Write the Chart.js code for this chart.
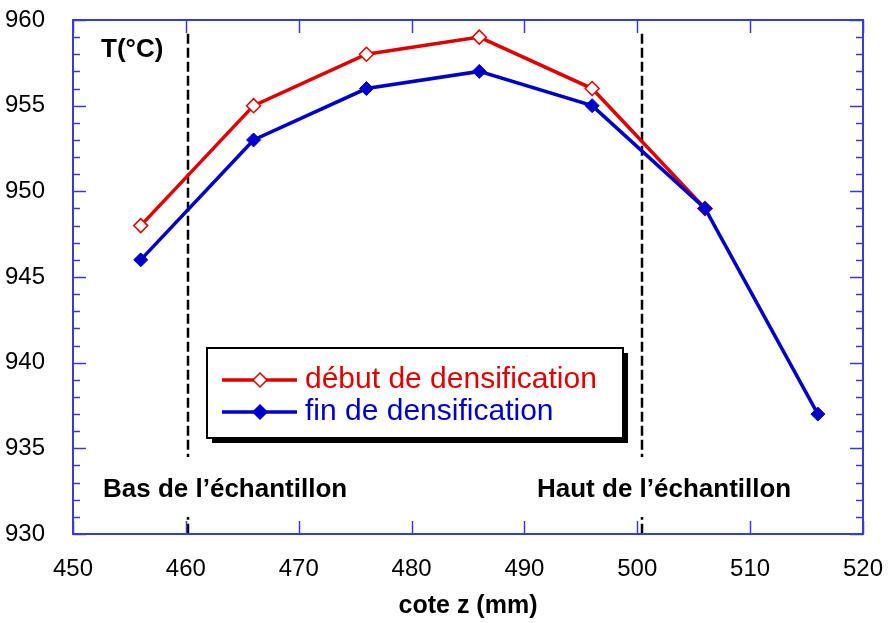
<!DOCTYPE html>
<html>
<head>
<meta charset="utf-8">
<script src="https://cdn.jsdelivr.net/npm/chart.js@4/dist/chart.umd.min.js"></script>
<style>
  html, body { margin: 0; padding: 0; background: #fff; }
  #wrap { width: 890px; height: 623px; }
</style>
</head>
<body>
<div id="wrap"><canvas id="tempChart" width="890" height="623"></canvas></div>
<script>
// cote z (mm)
const zDebut = [456, 466, 476, 486, 496, 506];
const tDebut = [948, 955, 958, 959, 956, 949];
const zFin = [456, 466, 476, 486, 496, 506, 516];
const tFin = [946, 953, 956, 957, 955, 949, 937];

// limites de l'échantillon (lignes pointillées)
const zLimits = [460.2, 500.4];
const limitTop = 959.2;

const xTicks = [450, 460, 470, 480, 490, 500, 510, 520];
const yTicks = [930, 935, 940, 945, 950, 955, 960];

const RED = '#e00000';
const BLUE = '#0000cc';
const AXIS = '#3a3ad8';
const FONT = '"Liberation Sans", Arial, sans-serif';

const toPoints = (xs, ys) => xs.map((x, i) => ({ x, y: ys[i] }));

const overlayPlugin = {
  id: 'overlay',
  beforeDatasetsDraw(chart) {
    const { ctx, scales: { x, y } } = chart;
    ctx.save();
    // dashed vertical limits
    ctx.strokeStyle = '#000';
    ctx.lineWidth = 2.5;
    ctx.setLineDash([10, 4]);
    zLimits.forEach(z => {
      const px = Math.round(x.getPixelForValue(z));
      ctx.beginPath();
      ctx.moveTo(px, y.getPixelForValue(limitTop));
      ctx.lineTo(px, y.getPixelForValue(930));
      ctx.stroke();
    });
    ctx.setLineDash([]);

    // annotation texts with white background
    ctx.font = 'bold 26px ' + FONT;
    ctx.textBaseline = 'alphabetic';
    ctx.textAlign = 'left';
    const notes = [
      { text: 'Bas de l\u2019échantillon', x: 103, y: 497 },
      { text: 'Haut de l\u2019échantillon', x: 537, y: 497 },
    ];
    notes.forEach(n => {
      const w = ctx.measureText(n.text).width;
      ctx.fillStyle = '#fff';
      ctx.fillRect(n.x - 4, n.y - 40, w + 8, 60);
      ctx.fillStyle = '#000';
      ctx.fillText(n.text, n.x, n.y);
    });
    ctx.textBaseline = 'middle';
    ctx.fillText('T(°C)', 101, 50);
    ctx.restore();
  },
  afterDraw(chart) {
    const { ctx, chartArea: a, scales: { x, y } } = chart;
    ctx.save();
    // frame + inward ticks
    ctx.strokeStyle = AXIS;
    ctx.lineWidth = 2;
    ctx.strokeRect(a.left, a.top, a.right - a.left, a.bottom - a.top);
    ctx.lineWidth = 1.5;
    ctx.beginPath();
    for (let v = 930; v <= 960; v++) {
      const py = Math.round(y.getPixelForValue(v)) + 0.5;
      const len = v % 5 === 0 ? 13 : 7;
      ctx.moveTo(a.left, py); ctx.lineTo(a.left + len, py);
      ctx.moveTo(a.right, py); ctx.lineTo(a.right - len, py);
    }
    xTicks.forEach(v => {
      const px = Math.round(x.getPixelForValue(v)) + 0.5;
      ctx.moveTo(px, a.bottom); ctx.lineTo(px, a.bottom - 13);
      ctx.moveTo(px, a.top); ctx.lineTo(px, a.top + 13);
    });
    ctx.stroke();

    // legend box with shadow
    const bx = 207, by = 348, bw = 416, bh = 90;
    ctx.fillStyle = '#000';
    ctx.fillRect(bx + 5, by + 5, bw, bh);
    ctx.fillStyle = '#fff';
    ctx.fillRect(bx, by, bw, bh);
    ctx.strokeStyle = '#000';
    ctx.lineWidth = 2;
    ctx.strokeRect(bx, by, bw, bh);

    ctx.font = '30px ' + FONT;
    ctx.textBaseline = 'middle';
    chart.data.datasets.forEach((ds, i) => {
      const ly = 380 + i * 32;
      ctx.strokeStyle = ds.borderColor;
      ctx.lineWidth = ds.borderWidth;
      ctx.beginPath();
      ctx.moveTo(222, ly); ctx.lineTo(297, ly);
      ctx.stroke();
      const r = ds.pointRadius;
      ctx.beginPath();
      ctx.moveTo(260, ly - r); ctx.lineTo(260 + r, ly);
      ctx.lineTo(260, ly + r); ctx.lineTo(260 - r, ly);
      ctx.closePath();
      ctx.fillStyle = ds.pointBackgroundColor;
      ctx.fill();
      ctx.lineWidth = 1.5;
      ctx.stroke();
      ctx.fillStyle = ds.borderColor;
      ctx.fillText(ds.label, 305, ly);
    });
    ctx.restore();
  },
};

const chartContext = document.getElementById('tempChart').getContext('2d');
const tempChart = new Chart(chartContext, {
  type: 'scatter',
  data: {
    datasets: [
      {
        label: 'début de densification',
        data: toPoints(zDebut, tDebut),
        showLine: true,
        borderColor: RED,
        borderWidth: 3.5,
        pointStyle: 'rectRot',
        pointRadius: 7,
        pointBorderWidth: 1.5,
        pointBackgroundColor: '#fff',
        pointBorderColor: RED,
        order: 2,
      },
      {
        label: 'fin de densification',
        data: toPoints(zFin, tFin),
        showLine: true,
        borderColor: BLUE,
        borderWidth: 3.5,
        pointStyle: 'rectRot',
        pointRadius: 7,
        pointBorderWidth: 1,
        pointBackgroundColor: BLUE,
        pointBorderColor: BLUE,
        order: 1,
      },
    ],
  },
  options: {
    responsive: false,
    animation: false,
    layout: { padding: { top: 20, right: 27, left: 0, bottom: 0 } },
    plugins: {
      legend: { display: false },
      tooltip: { enabled: false },
    },
    scales: {
      x: {
        type: 'linear',
        min: 450,
        max: 520,
        afterFit: s => {
          s.height = 89;
          s.paddingLeft = 0;
          s.paddingRight = 0;
        },
        afterBuildTicks: s => { s.ticks = xTicks.map(value => ({ value })); },
        grid: { display: false },
        border: { display: false },
        ticks: {
          color: '#000',
          padding: 13,
          maxRotation: 0,
          font: { family: FONT, size: 24 },
        },
        title: {
          display: true,
          text: 'cote z (mm)',
          color: '#000',
          padding: { top: 0, bottom: 2 },
          font: { family: FONT, size: 25, weight: 'bold' },
        },
      },
      y: {
        type: 'linear',
        min: 930,
        max: 960,
        afterFit: s => {
          s.width = 73;
          s.paddingTop = 0;
          s.paddingBottom = 0;
        },
        afterBuildTicks: s => { s.ticks = yTicks.map(value => ({ value })); },
        grid: { display: false },
        border: { display: false },
        ticks: {
          color: '#000',
          padding: 20,
          font: { family: FONT, size: 24 },
        },
      },
    },
  },
  plugins: [overlayPlugin],
});
</script>
</body>
</html>
